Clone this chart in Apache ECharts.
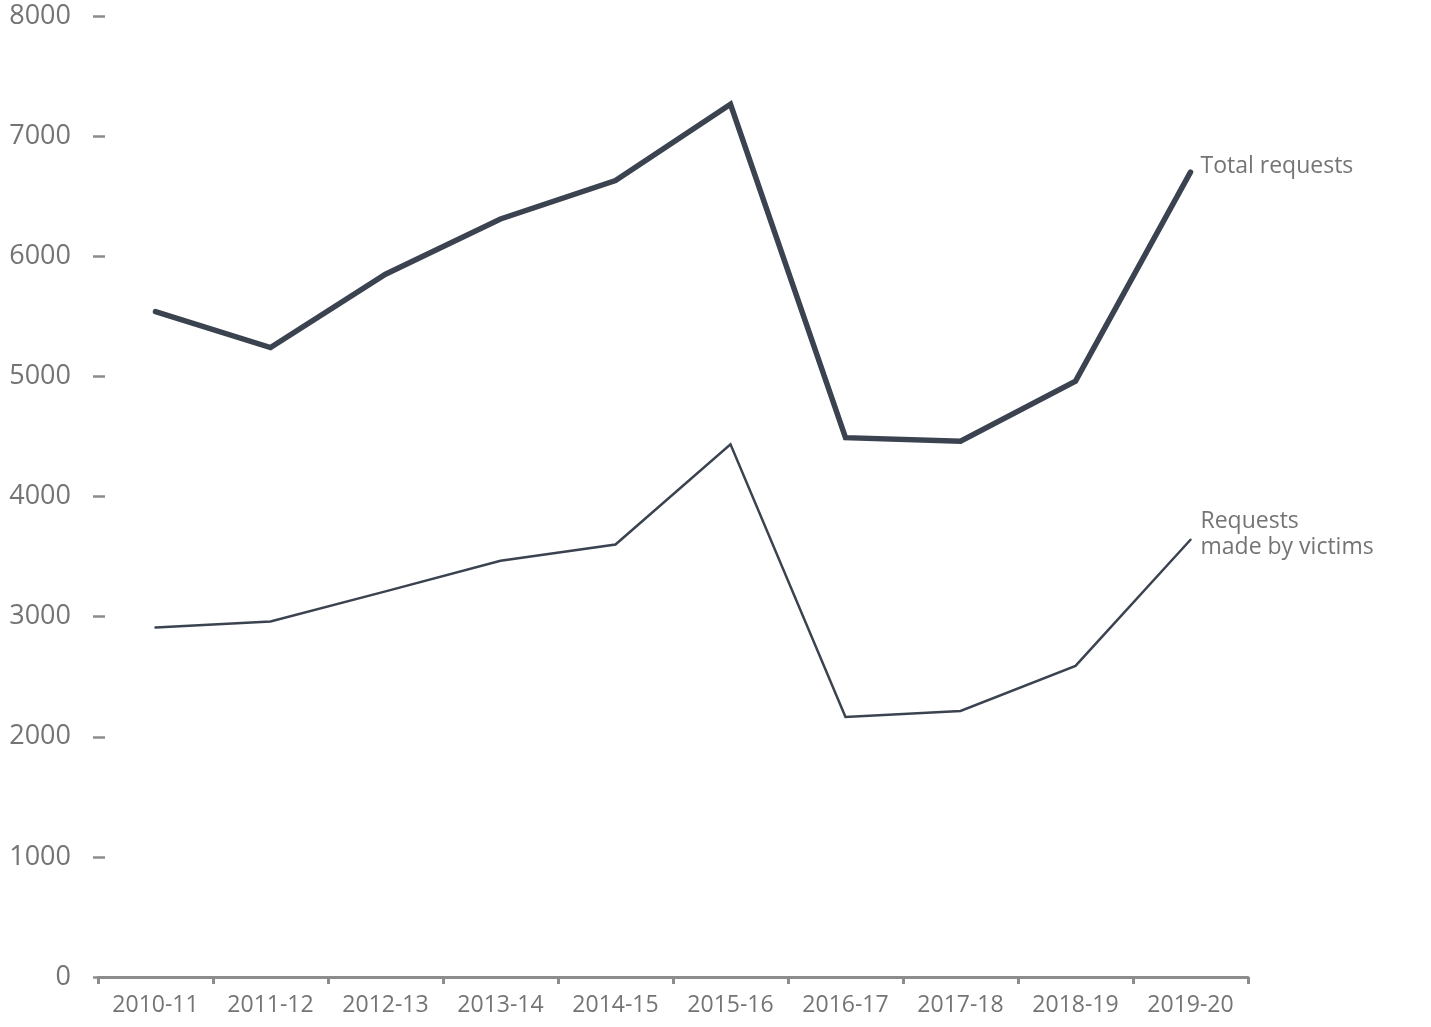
<!DOCTYPE html>
<html>
<head>
<meta charset="utf-8">
<script src="https://cdn.jsdelivr.net/npm/echarts@6/dist/echarts.min.js"></script>
<style>
html,body{margin:0;padding:0;background:#fff;}
#chart{width:1431px;height:1027px;}
</style>
</head>
<body>
<div id="chart"></div>
<script>
const categories = ['2010-11','2011-12','2012-13','2013-14','2014-15','2015-16','2016-17','2017-18','2018-19','2019-20'];
const totalRequests = [5540, 5240, 5850, 6310, 6630, 7265, 4490, 4460, 4960, 6700];
const victimRequests = [2910, 2960, 3210, 3465, 3600, 4435, 2165, 2215, 2590, 3640];
const yTicks = [0, 1000, 2000, 3000, 4000, 5000, 6000, 7000, 8000];

const lineColor = '#3b4350';
const textColor = '#747474';
const fontFamily = '"Open Sans", "Noto Sans", sans-serif';

const chart = echarts.init(document.getElementById('chart'));
chart.setOption({
  animation: false,
  backgroundColor: '#fff',
  grid: { left: 98, right: 183, top: 16, bottom: 50, containLabel: false },
  xAxis: {
    type: 'category',
    data: categories,
    boundaryGap: true,
    axisLine: { show: true, lineStyle: { color: '#8c8c8c', width: 3 } },
    axisTick: { show: true, length: 7, lineStyle: { color: '#8c8c8c', width: 3 } },
    axisLabel: { color: textColor, fontSize: 23, fontFamily: fontFamily, margin: 17 },
    splitLine: { show: false }
  },
  yAxis: {
    type: 'value',
    min: yTicks[0],
    max: yTicks[yTicks.length - 1],
    interval: 1000,
    offset: -7,
    axisLine: { show: false },
    axisTick: { show: true, length: 12, lineStyle: { color: '#8c8c8c', width: 2.5 } },
    axisLabel: { color: textColor, fontSize: 27, fontFamily: fontFamily, margin: 34,
      formatter: function (v) { return String(v); } },
    splitLine: { show: false }
  },
  series: [
    {
      name: 'Total requests',
      type: 'line',
      data: totalRequests,
      symbol: 'none',
      lineStyle: { color: lineColor, width: 5.5, cap: 'round', join: 'miter' },
      endLabel: {
        show: true,
        formatter: 'Total requests',
        color: textColor,
        fontSize: 23,
        fontFamily: fontFamily,
        distance: 10,
        offset: [0, -6]
      }
    },
    {
      name: 'Requests made by victims',
      type: 'line',
      data: victimRequests,
      symbol: 'none',
      lineStyle: { color: lineColor, width: 2.5, cap: 'round', join: 'miter' },
      endLabel: {
        show: true,
        formatter: 'Requests\nmade by victims',
        color: textColor,
        fontSize: 23,
        lineHeight: 26,
        fontFamily: fontFamily,
        distance: 10,
        offset: [0, -5]
      }
    }
  ]
});
</script>
</body>
</html>
